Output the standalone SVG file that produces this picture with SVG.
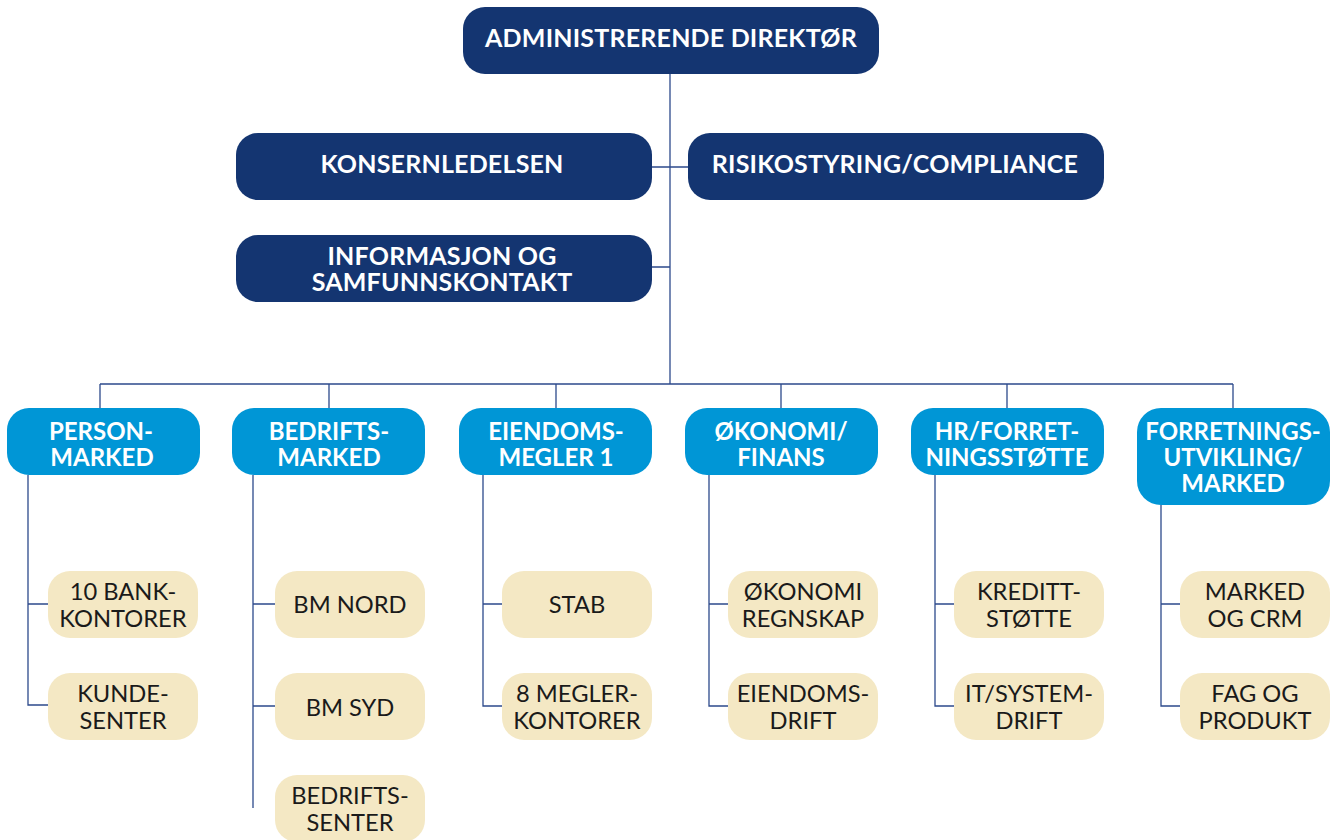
<svg xmlns="http://www.w3.org/2000/svg" width="1334" height="840" viewBox="0 0 1334 840">
<style>
.nav{fill:#143571}
.blu{fill:#0096d6}
.bei{fill:#f4e8c4}
.tw{font-family:Lato,"Open Sans","Liberation Sans",sans-serif;font-weight:700;fill:#fff;text-anchor:middle;font-size:24px}
.tn{font-size:25px;letter-spacing:0.2px}
.tb{font-family:Lato,"Open Sans","Liberation Sans",sans-serif;font-weight:400;fill:#1a1a1a;text-anchor:middle;font-size:23.7px}
.ln{stroke:#2d4a8c;stroke-width:1.3;fill:none}
</style>
<rect width="1334" height="840" fill="#fff"/>
<g id="connectors" class="ln">
<path d="M670 74V384M652 167H688M652 267H670M100 384H1233"/>
<path d="M100 384V408M329 384V408M556 384V408M781 384V408M1007 384V408M1233 384V408"/>
<path d="M28 475V705H48M28 604H48"/>
<path d="M253 475V808M253 604H275M253 706H275"/>
<path d="M483 475V706H502M483 604H502"/>
<path d="M709 475V706H728M709 604H728"/>
<path d="M935 475V706H954M935 604H954"/>
<path d="M1161 505V706H1180M1161 604H1180"/>
</g>
<g id="n-adm"><rect class="nav" x="463" y="7" width="416" height="67" rx="22"/><text class="tw tn" x="671" y="47">ADMINISTRERENDE DIREKTØR</text></g>
<g id="n-kons"><rect class="nav" x="236" y="133" width="416" height="67" rx="22"/><text class="tw tn" x="442" y="173">KONSERNLEDELSEN</text></g>
<g id="n-risk"><rect class="nav" x="688" y="133" width="416" height="67" rx="22"/><text class="tw tn" x="895" y="173">RISIKOSTYRING/COMPLIANCE</text></g>
<g id="n-info"><rect class="nav" x="236" y="235" width="416" height="67" rx="22"/><text class="tw tn" x="442" y="265">INFORMASJON OG</text><text class="tw tn" x="442" y="291">SAMFUNNSKONTAKT</text></g>
<g id="n-pm"><rect class="blu" x="7" y="408" width="193" height="67" rx="22"/><text class="tw" x="101" y="440">PERSON-</text><text class="tw" x="102" y="466">MARKED</text></g>
<g id="n-bm"><rect class="blu" x="232" y="408" width="193" height="67" rx="22"/><text class="tw" x="329" y="440">BEDRIFTS-</text><text class="tw" x="329" y="466">MARKED</text></g>
<g id="n-em"><rect class="blu" x="459" y="408" width="193" height="67" rx="22"/><text class="tw" x="556" y="440">EIENDOMS-</text><text class="tw" x="556" y="466">MEGLER 1</text></g>
<g id="n-ok"><rect class="blu" x="685" y="408" width="193" height="67" rx="22"/><text class="tw" x="781" y="440">ØKONOMI/</text><text class="tw" x="781" y="466">FINANS</text></g>
<g id="n-hr"><rect class="blu" x="911" y="408" width="193" height="67" rx="22"/><text class="tw" x="1007" y="440">HR/FORRET-</text><text class="tw" x="1007" y="466">NINGSSTØTTE</text></g>
<g id="n-fu"><rect class="blu" x="1137" y="408" width="193" height="97" rx="24"/><text class="tw" x="1233" y="440">FORRETNINGS-</text><text class="tw" x="1233" y="466">UTVIKLING/</text><text class="tw" x="1233" y="492">MARKED</text></g>
<g id="n-bank"><rect class="bei" x="48" y="571" width="150" height="67" rx="22"/><text class="tb" x="123" y="600">10 BANK-</text><text class="tb" x="123" y="627">KONTORER</text></g>
<g id="n-kunde"><rect class="bei" x="48" y="673" width="150" height="67" rx="22"/><text class="tb" x="123" y="702">KUNDE-</text><text class="tb" x="123" y="729">SENTER</text></g>
<g id="n-bmnord"><rect class="bei" x="275" y="571" width="150" height="67" rx="22"/><text class="tb" x="350" y="613">BM NORD</text></g>
<g id="n-bmsyd"><rect class="bei" x="275" y="673" width="150" height="67" rx="22"/><text class="tb" x="350" y="716">BM SYD</text></g>
<g id="n-bsent"><rect class="bei" x="275" y="775" width="150" height="67" rx="22"/><text class="tb" x="350" y="804">BEDRIFTS-</text><text class="tb" x="350" y="831">SENTER</text></g>
<g id="n-stab"><rect class="bei" x="502" y="571" width="150" height="67" rx="22"/><text class="tb" x="577" y="613">STAB</text></g>
<g id="n-megl"><rect class="bei" x="502" y="673" width="150" height="67" rx="22"/><text class="tb" x="577" y="702">8 MEGLER-</text><text class="tb" x="577" y="729">KONTORER</text></g>
<g id="n-okr"><rect class="bei" x="728" y="571" width="150" height="67" rx="22"/><text class="tb" x="803" y="600">ØKONOMI</text><text class="tb" x="803" y="627">REGNSKAP</text></g>
<g id="n-eiend"><rect class="bei" x="728" y="673" width="150" height="67" rx="22"/><text class="tb" x="803" y="702">EIENDOMS-</text><text class="tb" x="803" y="729">DRIFT</text></g>
<g id="n-kred"><rect class="bei" x="954" y="571" width="150" height="67" rx="22"/><text class="tb" x="1029" y="600">KREDITT-</text><text class="tb" x="1029" y="627">STØTTE</text></g>
<g id="n-it"><rect class="bei" x="954" y="673" width="150" height="67" rx="22"/><text class="tb" x="1029" y="702">IT/SYSTEM-</text><text class="tb" x="1029" y="729">DRIFT</text></g>
<g id="n-mcrm"><rect class="bei" x="1180" y="571" width="150" height="67" rx="22"/><text class="tb" x="1255" y="600">MARKED</text><text class="tb" x="1255" y="627">OG CRM</text></g>
<g id="n-fag"><rect class="bei" x="1180" y="673" width="150" height="67" rx="22"/><text class="tb" x="1255" y="702">FAG OG</text><text class="tb" x="1255" y="729">PRODUKT</text></g>
</svg>
